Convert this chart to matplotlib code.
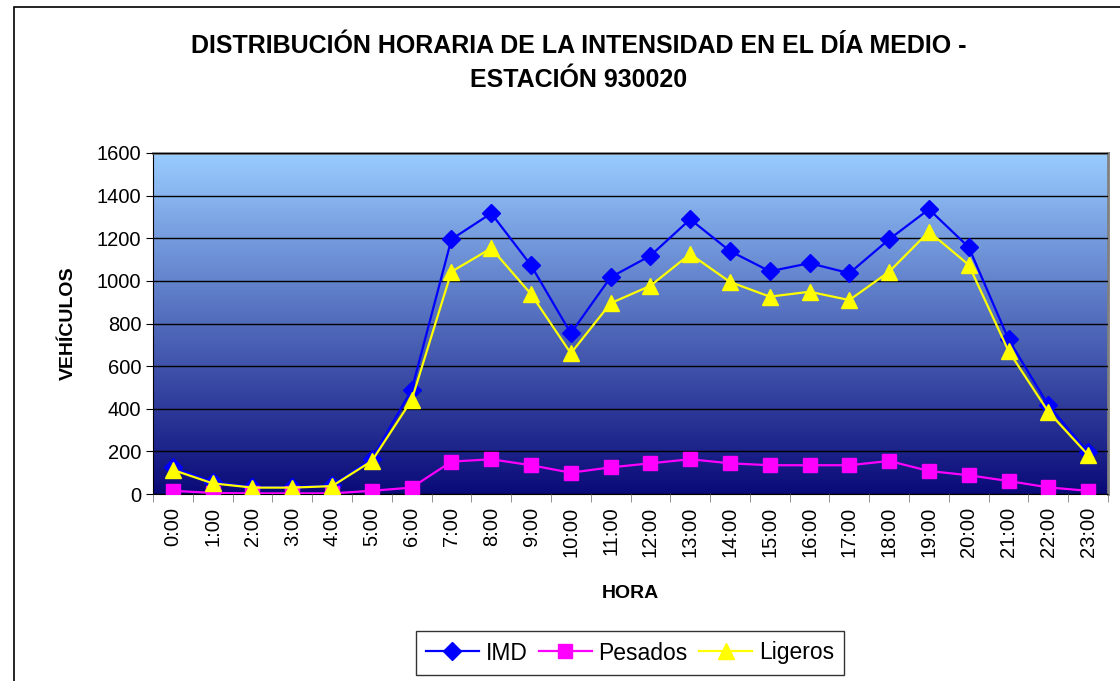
import numpy as np
import matplotlib
matplotlib.use('Agg')
import matplotlib.pyplot as plt
from matplotlib.patches import Rectangle

plt.rcParams['font.family'] = ['Liberation Sans', 'DejaVu Sans']

# datos
horas = ['%d:00' % h for h in range(24)]
imd = [125, 55, 33, 33, 40, 165, 488, 1195, 1317, 1073, 754, 1017,
       1118, 1289, 1140, 1045, 1083, 1036, 1195, 1336, 1158, 726, 416, 195]
pesados = [15, 5, 3, 3, 3, 15, 30, 152, 163, 135, 100, 125,
           144, 163, 144, 135, 135, 135, 155, 108, 88, 61, 31, 15]
ligeros = [113, 50, 30, 30, 37, 155, 441, 1043, 1153, 938, 660, 895,
           977, 1126, 995, 926, 949, 910, 1043, 1231, 1075, 671, 386, 183]

fig = plt.figure(figsize=(11.2, 6.81), dpi=100)
fig.patches.append(Rectangle((14 / 1120, -0.1), 1.2, 1.1 - 7 / 681, transform=fig.transFigure,
                             fill=False, edgecolor='black', linewidth=1.2))

ax = fig.add_axes([153 / 1120, (681 - 494) / 681, 955 / 1120, 341 / 681])

# fondo degradado
top = np.array([153, 204, 255]) / 255
bot = np.array([10, 10, 120]) / 255
t = np.linspace(0, 1, 256)[:, None]
grad = (top * (1 - t) + bot * t)[:, None, :]
ax.imshow(grad, extent=[0, 1, 0, 1], transform=ax.transAxes, aspect='auto', zorder=0)

x = np.arange(len(horas))
ax.plot(x, imd, color='#0000FF', marker='D', markersize=9, linewidth=1.6, label='IMD', zorder=3)
ax.plot(x, pesados, color='#FF00FF', marker='s', markersize=10, linewidth=1.6, label='Pesados', zorder=3)
ax.plot(x, ligeros, color='#FFFF00', marker='^', markersize=12, linewidth=1.6, label='Ligeros', zorder=4)

ax.set_xlim(-0.5, 23.5)
ax.set_ylim(0, 1600)
ax.set_yticks(range(0, 1601, 200))
ax.yaxis.grid(True, color='black', linewidth=1)
ax.set_axisbelow(False)
ax.set_xticks(x)
ax.set_xticklabels(horas, rotation=90, fontsize=14.5)
ax.set_xticks(np.arange(-0.5, 24, 1), minor=True)
ax.tick_params(axis='x', which='major', length=0, pad=9)
ax.tick_params(axis='x', which='minor', length=6, color='gray')
ax.tick_params(axis='y', labelsize=14.5, length=5)
for s in ['top', 'right']:
    ax.spines[s].set_color('gray')
    ax.spines[s].set_linewidth(2)
ax.spines['left'].set_color('black')
ax.spines['bottom'].set_color('black')

ax.set_ylabel('VEHÍCULOS', fontsize=14, fontweight='bold', labelpad=14)
ax.set_xlabel('HORA', fontsize=14, fontweight='bold', labelpad=20)

fig.text(0.517, 1 - 63 / 681, 'DISTRIBUCIÓN HORARIA DE LA INTENSIDAD EN EL DÍA MEDIO -\nESTACIÓN 930020',
         ha='center', va='center', fontsize=18, fontweight='bold', linespacing=1.55)

leg = fig.legend(loc='center', bbox_to_anchor=(630 / 1120, 1 - 653 / 681), ncol=3, fontsize=16.5,
                 frameon=True, fancybox=False, edgecolor='black', handlelength=2.3,
                 columnspacing=0.5, handletextpad=0.3, borderpad=0.45)
leg.get_frame().set_linewidth(1)

fig.savefig('out.png', dpi=100)
